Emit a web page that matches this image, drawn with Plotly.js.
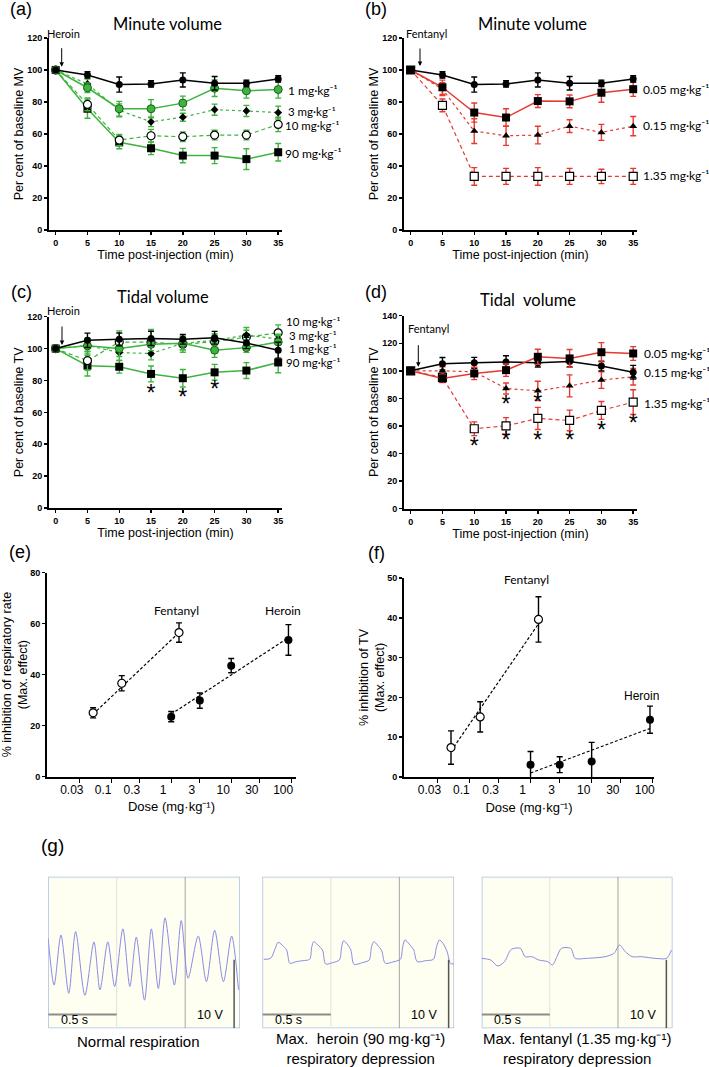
<!DOCTYPE html>
<html><head><meta charset="utf-8">
<script src="https://cdn.plot.ly/plotly-3.0.1.min.js"></script>
<style>html,body{margin:0;padding:0;background:#fff}#chart{width:709px;height:1067px}</style>
</head><body><div id="chart"></div>
<script>
// ================= DATA =================
const timeMin = [0,5,10,15,20,25,30,35];
const timeTicks = [0,5,10,15,20,25,30,35];

// Vehicle/control (shared)
const mvControl    = [100,96.9,90.9,91.3,93.8,91.7,91.7,94.4];
const mvControlErr = [0,2,4.7,2,4.4,4.2,2,2];
// (a) Heroin minute volume
const mvHeroin1     = [100,88.9,75.8,75.8,79.3,88.6,87,87.8];
const mvHeroin1Err  = [0,3,4.6,5.7,4.4,5.2,4.6,5.4];
const mvHeroin3     = [100,91.3,74.8,67.6,70.5,75.2,74.4,73.4];
const mvHeroin3Err  = [0,3,4,3,2.5,3.5,3.5,4];
const mvHeroin10    = [100,78.5,56.2,58.9,58.3,59.3,59.3,66];
const mvHeroin10Err = [0,4,3.5,4,3,3,3,4.5];
const mvHeroin90    = [100,75.8,54.8,51.1,46.5,46.5,44.3,48.6];
const mvHeroin90Err = [0,6,4,4,4.5,5,6.5,5.5];
// (b) Fentanyl minute volume
const mvFent005     = [100,89.2,73.4,70.3,80.6,80.4,85.8,88];
const mvFent005Err  = [0,4.5,6,5.5,4,4,6,4.5];
const mvFent015     = [100,88,61.8,58.9,59.3,64.9,61,64.9];
const mvFent015Err  = [0,4,7.7,6,5.5,4,5,6];
const mvFent135     = [100,77.9,33.5,33.5,33.5,33.5,33.5,33.5];
const mvFent135Err  = [0,4,5.5,5,5.5,5,4.5,5];
// (c) Heroin tidal volume
const tvControl     = [100,105.2,105.8,106.4,105.8,106.8,103.5,99];
const tvControlErr  = [0,4.5,4,4.5,3,4,3.5,5];
const tvHeroin1     = [100,101.7,100,102.7,103.3,99,100.6,104.1];
const tvHeroin1Err  = [0,5,5,4,4,4.5,3,4];
const tvHeroin3     = [100,102,97.5,96.9,103.3,105.2,108.5,106];
const tvHeroin3Err  = [0,4,5,4,4,3,3,3];
const tvHeroin10    = [100,92.4,104.1,104,102.7,104.3,107.2,109.9];
const tvHeroin10Err = [0,6,7,8,5,5,6,5];
const tvHeroin90    = [100,89.3,88.6,84.1,81.4,85.1,86.2,91.3];
const tvHeroin90Err = [0,6.5,4,5,5.5,5,5,6.5];
const tvHeroinStarT = [15,20,25];
const tvHeroinStarV = [71,68.5,73.5];
// (d) Fentanyl tidal volume
const tvFent005     = [100,94.5,98.1,100.5,110.2,109,113.5,112.6];
const tvFent005Err  = [0,3,4.5,4.5,5.5,6.5,7,5];
const tvFent015     = [100,100,99.3,87.2,85.5,89.1,93.3,95.7];
const tvFent015Err  = [0,3,3,4,7,8,6,6];
const tvFent135     = [100,95.2,58,60.1,65.5,64,71.3,77.3];
const tvFent135Err  = [0,3,5,6,8,7.5,6.5,9];
const tvFentStarT   = [15,20,10,15,20,25,30,35];
const tvFentStarV   = [74,75.5,44,48.5,48.5,48.5,55.5,60.5];

// (e)/(f) dose-response
const doseTicks     = [0.03,0.1,0.3,1,3,10,30,100];
const doseTickText  = ['0.03','0.1','0.3','1','3','10','30','100'];
const fentDose      = [0.05,0.15,1.35];
const heroinDose    = [1,3,10,90];
const rrFent        = [25,36.6,56.5];
const rrFentErr     = [2,3,3.8];
const rrHeroin      = [23.5,29.8,43.5,53.6];
const rrHeroinErr   = [2,3,2.8,6];
const fentFitDose   = [0.05,1.35];
const heroinFitDose = [1,90];
const rrFentFit     = [24.5,56.5];
const rrHeroinFit   = [24.5,54.5];
const tvInhFent       = [7.4,15.1,39.6];
const tvInhFentErr    = [4.2,3.8,5.7];
const tvInhHeroin     = [3.1,3.1,3.9,14.4];
const tvInhHeroinErr  = [3.3,2,4.8,3.4];
const tvInhFentFit    = [6.5,38.5];
const tvInhHeroinFit  = [1,12.2];

// (g) respiration traces: time (s), signal (V)
const normT = [0,0.043,0.093,0.15,0.20,0.268,0.334,0.378,0.435,0.485,0.545,0.596,0.643,0.703,0.753,0.804,0.853,0.921,0.971,1.021,1.095,1.155,1.215,1.279,1.339,1.389];
const normV = [13.1,6.3,13.6,5.1,14.1,4.8,12.6,5.6,12.6,6.1,14.5,6.1,13.3,4.1,14.5,5.8,16.1,6.3,15.7,7.3,13.45,6.8,14.3,6.8,13.45,5.6];
const heroT = [0.010,0.060,0.094,0.114,0.144,0.177,0.201,0.245,0.295,0.345,0.361,0.375,0.405,0.439,0.462,0.512,0.562,0.579,0.593,0.619,0.646,0.669,0.730,0.780,0.797,0.814,0.840,0.871,0.897,0.958,1.008,1.025,1.041,1.072,1.105,1.131,1.192,1.249,1.272,1.292,1.319,1.349,1.373,1.399];
const heroV = [10.06,10.2,11.66,12.54,12.14,11.41,9.48,9.71,9.86,10.06,11.9,12.63,12.14,11.41,9.37,9.57,9.96,11.9,12.77,12.29,11.41,9.33,9.57,9.96,11.9,12.63,12.14,11.31,9.48,9.71,10.06,11.9,12.87,12.29,11.41,9.71,9.86,10.06,11.9,12.87,12.39,11.17,9.48,9.37];
const fentT = [0,0.066,0.117,0.167,0.217,0.284,0.318,0.368,0.418,0.485,0.519,0.552,0.585,0.653,0.686,0.770,0.904,0.971,1.011,1.054,1.104,1.172,1.272,1.356,1.393];
const fentV = [10.2,9.96,9.08,9.71,11.5,11.66,10.44,10.44,9.96,9.71,9.23,10.44,11.66,11.66,10.2,10.2,10.44,10.93,12.14,11.17,10.44,10.44,10.2,10.2,11.41];

// ================= STYLE =================
const W = 709, H = 1067;
const px = v => v / W, py = v => 1 - v / H;
const GREEN = '#3db43d', RED = '#e63a30', TRACE = '#8a8ae6';
const ARIAL = 'Liberation Sans, Arial, sans-serif';
const NARROW = 'Liberation Sans Narrow, Liberation Sans, Arial, sans-serif';
const SOFT = 'Lato, Noto Sans, sans-serif';
const tickFont = {family: ARIAL, size: 9, color: '#000', weight: 'bold'};
const axTitleFont = {family: ARIAL, size: 12.5, color: '#000'};
const DASH = '4px,3px';

function timeX(dom, anchor) {
  return {domain: dom, anchor, range: [-1.05, 35.6], tickmode: 'array', tickvals: timeTicks,
    ticks: 'outside', ticklen: 3, tickwidth: 1.5, tickcolor: '#000', showline: true, linewidth: 2,
    linecolor: '#000', showgrid: false, zeroline: false, tickfont: tickFont, fixedrange: true,
    title: {text: 'Time post-injection (min)', font: axTitleFont, standoff: 2}};
}
function pctY(dom, anchor, max, title) {
  const tv = []; for (let v = 0; v <= max; v += 20) tv.push(v);
  return {domain: dom, anchor, range: [0, max], tickmode: 'array', tickvals: tv,
    ticks: 'outside', ticklen: 3, tickwidth: 1.5, tickcolor: '#000', showline: true, linewidth: 2,
    linecolor: '#000', showgrid: false, zeroline: false, tickfont: tickFont, fixedrange: true,
    title: {text: title, font: axTitleFont, standoff: 1}};
}
function doseX(dom, anchor, range) {
  return {domain: dom, anchor, type: 'log', range, tickmode: 'array', tickvals: doseTicks, ticktext: doseTickText,
    ticks: 'outside', ticklen: 4, tickwidth: 1, tickcolor: '#000', showline: true, linewidth: 2,
    linecolor: '#000', showgrid: false, zeroline: false, ticklabelshift: -8, ticklabelstandoff: -3,
    tickfont: {family: NARROW, size: 12, color: '#000'}, fixedrange: true,
    title: {text: 'Dose (mg·kg⁻¹)', font: {family: NARROW, size: 13, color: '#000'}, standoff: 6}};
}
function inhY(dom, anchor, tv, title) {
  return {domain: dom, anchor, range: [0, tv[tv.length - 1]], tickmode: 'array', tickvals: tv,
    ticks: 'outside', ticklen: 3, tickwidth: 1.5, tickcolor: '#000', showline: true, linewidth: 2,
    linecolor: '#000', showgrid: false, zeroline: false, tickfont: tickFont, fixedrange: true,
    title: {text: title, font: {family: ARIAL, size: 12.5, color: '#000'}, standoff: 0}};
}
function gX(dom, anchor) {
  return {domain: dom, anchor, range: [0, 1.4], visible: false, fixedrange: true};
}
function gY(dom, anchor) {
  return {domain: dom, anchor, range: [0, 22.1], visible: false, fixedrange: true};
}

function series(xa, ya, x, y, err, lineColor, dash, lw, marker, errColor) {
  return {type: 'scatter', mode: 'lines+markers', x, y, xaxis: xa, yaxis: ya,
    line: {color: lineColor, dash, width: lw}, marker,
    error_y: {type: 'data', array: err, visible: true, color: errColor, thickness: 1.4, width: 3},
    showlegend: false, hoverinfo: 'skip', cliponaxis: false};
}
const ctrlM = {symbol: 'circle', size: 7, color: '#000'};
const h1M   = {symbol: 'circle', size: 8, color: GREEN, line: {color: '#1d5e1d', width: 1}};
const h3M   = {symbol: 'diamond', size: 6, color: '#000'};
const openC = {symbol: 'circle', size: 8, color: '#fff', line: {color: '#000', width: 1.2}};
const fillS = {symbol: 'square', size: 8, color: '#000'};
const triM  = {symbol: 'triangle-up', size: 7, color: '#000'};
const openS = {symbol: 'square', size: 8, color: '#fff', line: {color: '#000', width: 1.2}};
const fillC = {symbol: 'circle', size: 8, color: '#000'};

function stars(xa, ya, x, y) {
  return {type: 'scatter', mode: 'text', x, y, xaxis: xa, yaxis: ya, text: x.map(() => '*'),
    textposition: 'middle center', textfont: {family: ARIAL, size: 23, color: '#000'},
    showlegend: false, hoverinfo: 'skip', cliponaxis: false};
}
function fit(xa, ya, x, y) {
  return {type: 'scatter', mode: 'lines', x, y, xaxis: xa, yaxis: ya,
    line: {color: '#000', dash: '3px,2px', width: 1.2}, showlegend: false, hoverinfo: 'skip'};
}
function pts(xa, ya, x, y, err, marker) {
  return {type: 'scatter', mode: 'markers', x, y, xaxis: xa, yaxis: ya, marker,
    error_y: {type: 'data', array: err, visible: true, color: '#000', thickness: 1.4, width: 3},
    showlegend: false, hoverinfo: 'skip', cliponaxis: false};
}
function wave(xa, ya, x, y) {
  return {type: 'scatter', mode: 'lines', x, y, xaxis: xa, yaxis: ya,
    line: {color: TRACE, width: 1, shape: 'spline', smoothing: 0.8}, showlegend: false, hoverinfo: 'skip'};
}

const data = [
  // (a)
  series('x', 'y', timeMin, mvHeroin90, mvHeroin90Err, GREEN, 'solid', 1.5, fillS, GREEN),
  series('x', 'y', timeMin, mvHeroin10, mvHeroin10Err, GREEN, DASH, 1.2, openC, GREEN),
  series('x', 'y', timeMin, mvHeroin3, mvHeroin3Err, GREEN, 'dot', 1.2, h3M, GREEN),
  series('x', 'y', timeMin, mvHeroin1, mvHeroin1Err, GREEN, 'solid', 1.5, h1M, GREEN),
  series('x', 'y', timeMin, mvControl, mvControlErr, '#000', 'solid', 1.5, ctrlM, '#000'),
  // (b)
  series('x2', 'y2', timeMin, mvFent135, mvFent135Err, RED, DASH, 1.2, openS, RED),
  series('x2', 'y2', timeMin, mvFent015, mvFent015Err, RED, 'dot', 1.2, triM, RED),
  series('x2', 'y2', timeMin, mvFent005, mvFent005Err, RED, 'solid', 1.5, fillS, RED),
  series('x2', 'y2', timeMin, mvControl, mvControlErr, '#000', 'solid', 1.5, ctrlM, '#000'),
  // (c)
  series('x3', 'y3', timeMin, tvHeroin90, tvHeroin90Err, GREEN, 'solid', 1.5, fillS, GREEN),
  series('x3', 'y3', timeMin, tvHeroin10, tvHeroin10Err, GREEN, DASH, 1.2, openC, GREEN),
  series('x3', 'y3', timeMin, tvHeroin3, tvHeroin3Err, GREEN, 'dot', 1.2, h3M, GREEN),
  series('x3', 'y3', timeMin, tvHeroin1, tvHeroin1Err, GREEN, 'solid', 1.5, h1M, GREEN),
  series('x3', 'y3', timeMin, tvControl, tvControlErr, '#000', 'solid', 1.5, ctrlM, '#000'),
  stars('x3', 'y3', tvHeroinStarT, tvHeroinStarV),
  // (d)
  series('x4', 'y4', timeMin, tvFent135, tvFent135Err, RED, DASH, 1.2, openS, RED),
  series('x4', 'y4', timeMin, tvFent015, tvFent015Err, RED, 'dot', 1.2, triM, RED),
  series('x4', 'y4', timeMin, tvControl, tvControlErr, '#000', 'solid', 1.5, ctrlM, '#000'),
  series('x4', 'y4', timeMin, tvFent005, tvFent005Err, RED, 'solid', 1.5, fillS, RED),
  stars('x4', 'y4', tvFentStarT, tvFentStarV),
  // (e)
  fit('x5', 'y5', fentFitDose, rrFentFit),
  fit('x5', 'y5', heroinFitDose, rrHeroinFit),
  pts('x5', 'y5', fentDose, rrFent, rrFentErr, openC),
  pts('x5', 'y5', heroinDose, rrHeroin, rrHeroinErr, fillC),
  // (f)
  fit('x6', 'y6', fentFitDose, tvInhFentFit),
  fit('x6', 'y6', heroinFitDose, tvInhHeroinFit),
  pts('x6', 'y6', fentDose, tvInhFent, tvInhFentErr, openC),
  pts('x6', 'y6', heroinDose, tvInhHeroin, tvInhHeroinErr, fillC),
  // (g)
  wave('x7', 'y7', normT, normV),
  wave('x8', 'y8', heroT, heroV),
  wave('x9', 'y9', fentT, fentV)
];

const domA = [py(230), py(38)], domC = [py(508), py(316.7)], domD = [py(508.7), py(315.7)];
const xL = [px(49), px(282)], xR = [px(404), px(637)];
const gYdom = [py(1028.3), py(876.7)];

const layout = {
  width: W, height: H, margin: {l: 0, r: 0, t: 0, b: 0}, paper_bgcolor: '#fff', plot_bgcolor: 'rgba(0,0,0,0)',
  showlegend: false, font: {family: ARIAL, color: '#000'},
  xaxis: timeX(xL, 'y'), yaxis: pctY(domA, 'x', 120, 'Per cent of baseline MV'),
  xaxis2: timeX(xR, 'y2'), yaxis2: pctY(domA, 'x2', 120, 'Per cent of baseline MV'),
  xaxis3: timeX(xL, 'y3'), yaxis3: pctY(domC, 'x3', 120, 'Per cent of baseline TV'),
  xaxis4: timeX(xR, 'y4'), yaxis4: pctY(domD, 'x4', 140, 'Per cent of baseline TV'),
  xaxis5: doseX([px(47), px(296)], 'y5', [-2.07, 2.08]),
  yaxis5: inhY([py(776.5), py(572.7)], 'x5', [0,20,40,60,80], '% inhibition of respiratory rate<br>(Max. effect)'),
  xaxis6: doseX([px(404), px(654)], 'y6', [-2.07, 2.02]),
  yaxis6: inhY([py(777), py(578)], 'x6', [0,10,20,30,40,50], '% inhibition of TV<br>(Max. effect)'),
  xaxis7: gX([px(48.2), px(240)], 'y7'), yaxis7: gY(gYdom, 'x7'),
  xaxis8: gX([px(262.4), px(454.1)], 'y8'), yaxis8: gY(gYdom, 'x8'),
  xaxis9: gX([px(481.7), px(672.5)], 'y9'), yaxis9: gY(gYdom, 'x9'),
  shapes: [], annotations: []
};

// panel (g) frames, grid lines and scale bars
[['x7','y7',1.357],['x8','y8',1.36],['x9','y9',1.355]].forEach(([xa, ya, vb]) => {
  layout.shapes.push({type: 'rect', xref: xa, yref: ya, x0: 0, x1: 1.4, y0: 0, y1: 22.1,
    fillcolor: '#fefef1', line: {color: '#a9bfe3', width: 1.5}, layer: 'below'});
  layout.shapes.push({type: 'line', xref: xa, yref: ya, x0: 0.5, x1: 0.5, y0: 0, y1: 22.1,
    line: {color: '#e2e2dc', width: 1}, layer: 'below'});
  layout.shapes.push({type: 'line', xref: xa, yref: ya, x0: 1.0, x1: 1.0, y0: 0, y1: 22.1,
    line: {color: '#a5a5a5', width: 1}, layer: 'below'});
  layout.shapes.push({type: 'line', xref: xa, yref: ya, x0: 0, x1: 0.5, y0: 2.0, y1: 2.0,
    line: {color: '#8c8c8c', width: 2}});
  layout.shapes.push({type: 'line', xref: xa, yref: ya, x0: vb, x1: vb, y0: 0, y1: 10,
    line: {color: '#555', width: 1.5}});
  layout.annotations.push({xref: xa, yref: ya, x: 0.19, y: 1.2, text: '0.5 s', showarrow: false,
    font: {family: NARROW, size: 12.5, color: '#000'}, yanchor: 'middle'});
  layout.annotations.push({xref: xa, yref: ya, x: 1.18, y: 2.0, text: '10 V', showarrow: false,
    font: {family: NARROW, size: 12.5, color: '#000'}, yanchor: 'middle'});
});

function note(x, y, text, font, extra) {
  layout.annotations.push(Object.assign({xref: 'paper', yref: 'paper', x: px(x), y: py(y), text,
    showarrow: false, font, xanchor: 'center', yanchor: 'middle'}, extra || {}));
}
function arrow(x, y, len) {
  layout.annotations.push({xref: 'paper', yref: 'paper', x: px(x), y: py(y), text: ' ', showarrow: true,
    ax: 0, ay: -len, arrowhead: 2, arrowsize: 0.9, arrowwidth: 1, arrowcolor: '#000', standoff: 0});
}
const letterFont = {family: ARIAL, size: 18, color: '#000'};
const titleFont = {family: SOFT, size: 16.5, color: '#000'};
const smallFont = {family: SOFT, size: 11, color: '#000'};
const doseFont = {family: SOFT, size: 12, color: '#000'};
const doseFontS = {family: SOFT, size: 11.5, color: '#000'};
const labFont = {family: SOFT, size: 12, color: '#000'};
const gFont = {family: NARROW, size: 15, color: '#000'};

note(21, 9, '(a)', letterFont); note(376, 9, '(b)', letterFont);
note(21, 292, '(c)', letterFont); note(376, 292, '(d)', letterFont);
note(20, 552, '(e)', letterFont); note(377, 553, '(f)', letterFont);
note(53, 845, '(g)', {family: NARROW, size: 19, color: '#000'});

note(167, 24, 'Minute volume', titleFont); note(532, 24, 'Minute volume', titleFont);
note(163, 297, 'Tidal volume', titleFont); note(528, 300, 'Tidal&nbsp;&nbsp;volume', titleFont);

note(63, 33, 'Heroin', smallFont); arrow(61.7, 66.7, 27);
note(427, 33, 'Fentanyl', smallFont); arrow(420, 66, 26);
note(63, 310, 'Heroin', smallFont); arrow(62, 345, 27);
note(429, 328, 'Fentanyl', smallFont); arrow(418.3, 366.7, 30);

const L = {xanchor: 'left'};
note(286, 90, '1 mg·kg⁻¹', doseFont, L); note(286, 111.5, '3 mg·kg⁻¹', doseFontS, L);
note(283, 126, '10 mg·kg⁻¹', doseFontS, L); note(283, 153, '90 mg·kg⁻¹', doseFont, L);
note(641, 89, '0.05 mg·kg⁻¹', doseFont, L); note(641, 126, '0.15 mg·kg⁻¹', doseFont, L);
note(641, 176, '1.35 mg·kg⁻¹', doseFont, L);
note(284, 321.5, '10 mg·kg⁻¹', doseFontS, L); note(287, 335, '3 mg·kg⁻¹', doseFontS, L);
note(287, 348.5, '1 mg·kg⁻¹', doseFontS, L); note(284, 362.5, '90 mg·kg⁻¹', doseFontS, L);
note(642, 353, '0.05 mg·kg⁻¹', doseFont, L); note(642, 372, '0.15 mg·kg⁻¹', doseFont, L);
note(642, 403, '1.35 mg·kg⁻¹', doseFont, L);

note(176, 610, 'Fentanyl', labFont); note(283, 610, 'Heroin', labFont);
note(526, 579, 'Fentanyl', labFont); note(641, 696, 'Heroin', {family: NARROW, size: 12, color: '#000'});

note(138, 1041, 'Normal respiration', gFont);
note(360, 1048, 'Max.&nbsp;&nbsp;heroin (90 mg·kg⁻¹)<br>respiratory depression', gFont);
note(577, 1048, 'Max. fentanyl (1.35 mg·kg⁻¹)<br>respiratory depression', gFont);

Plotly.newPlot('chart', data, layout, {staticPlot: true, displayModeBar: false});
</script></body></html>
